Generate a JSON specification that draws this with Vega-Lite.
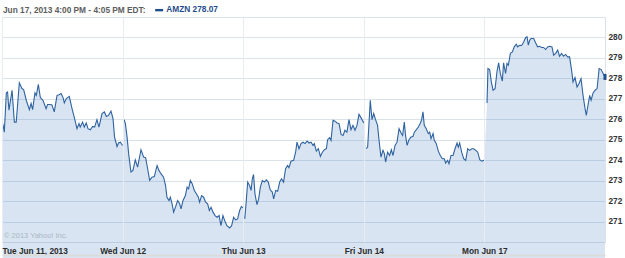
{
  "$schema": "https://vega.github.io/schema/vega-lite/v6.json",
  "width": 603,
  "height": 225,
  "autosize": {"type": "none"},
  "padding": {"left": 2, "top": 17, "right": 20, "bottom": 16},
  "background": "white",
  "title": {
    "text": "Jun 17, 2013 4:00 PM - 4:05 PM EDT:",
    "anchor": "start",
    "frame": "group",
    "font": "Liberation Sans",
    "fontSize": 8.3,
    "fontWeight": "bold",
    "color": "#5c5c5c",
    "offset": 4,
    "baseline": "alphabetic",
    "dx": 1,
    "dy": 19
  },
  "config": {
    "view": {"stroke": "#dbe2e9"},
    "legend": {
      "orient": "none",
      "legendX": 153,
      "legendY": -11,
      "padding": 0,
      "title": null,
      "symbolType": "M-1,-0.3H1V0.3H-1Z",
      "symbolSize": 64,
      "symbolStrokeWidth": 0,
      "labelOffset": 3,
      "labelFont": "Liberation Sans",
      "labelFontSize": 8.3,
      "labelFontWeight": "bold",
      "labelColor": "#1f4e8c"
    }
  },
  "data": {"values": [
    {"day":0,"t":0.5,"v":275.79},{"day":0,"t":1.5,"v":275.37},{"day":0,"t":2.8,"v":277.29},{"day":0,"t":3.6,"v":277.33},{"day":0,"t":4.5,"v":276.44},{"day":0,"t":6.5,"v":277.42},{"day":0,"t":8,"v":275.86},{"day":0,"t":9.2,"v":275.86},{"day":0,"t":11.2,"v":277.78},{"day":0,"t":12.9,"v":277.5},{"day":0,"t":14,"v":277.45},{"day":0,"t":15.7,"v":276.93},{"day":0,"t":17.7,"v":276.47},{"day":0,"t":18.8,"v":276.77},{"day":0,"t":19.8,"v":276.47},{"day":0,"t":21.3,"v":277.29},{"day":0,"t":22.2,"v":277.17},{"day":0,"t":23.5,"v":277.71},{"day":0,"t":24.8,"v":277.06},{"day":0,"t":26.5,"v":276.93},{"day":0,"t":28.5,"v":276.52},{"day":0,"t":29.5,"v":276.72},{"day":0,"t":31.2,"v":276.72},{"day":0,"t":32.3,"v":276.7},{"day":0,"t":33.8,"v":276.36},{"day":0,"t":35.6,"v":277.17},{"day":0,"t":36.9,"v":277.2},{"day":0,"t":38.2,"v":277.26},{"day":0,"t":39.5,"v":277.06},{"day":0,"t":40.3,"v":276.8},{"day":0,"t":41.6,"v":277.01},{"day":0,"t":43.5,"v":277.12},{"day":0,"t":45.3,"v":276.52},{"day":0,"t":46.8,"v":276.08},{"day":0,"t":48.5,"v":275.54},{"day":0,"t":49.8,"v":275.79},{"day":0,"t":50.6,"v":275.62},{"day":0,"t":52.1,"v":275.86},{"day":0,"t":53.2,"v":275.62},{"day":0,"t":54.5,"v":275.82},{"day":0,"t":55.6,"v":275.54},{"day":0,"t":57.1,"v":275.49},{"day":0,"t":58.6,"v":275.65},{"day":0,"t":59.9,"v":275.62},{"day":0,"t":61.4,"v":275.98},{"day":0,"t":62.7,"v":275.62},{"day":0,"t":64.7,"v":276.28},{"day":0,"t":66.2,"v":276.36},{"day":0,"t":67.5,"v":276.14},{"day":0,"t":68.9,"v":276.19},{"day":0,"t":70.5,"v":276.4},{"day":0,"t":71.8,"v":276.03},{"day":0,"t":72.8,"v":275.13},{"day":0,"t":74.4,"v":274.67},{"day":0,"t":75.4,"v":274.84},{"day":0,"t":76.5,"v":274.88},{"day":0,"t":78,"v":274.72},
    {"day":1,"t":79,"v":275.98},{"day":1,"t":79.8,"v":275.79},{"day":1,"t":80.9,"v":275.13},{"day":1,"t":81.9,"v":274.32},{"day":1,"t":83.4,"v":273.42},{"day":1,"t":84.7,"v":273.5},{"day":1,"t":86.2,"v":274.02},{"day":1,"t":87.7,"v":273.66},{"day":1,"t":89.9,"v":274.51},{"day":1,"t":91.6,"v":274.15},{"day":1,"t":92.9,"v":274.12},{"day":1,"t":94.2,"v":273.58},{"day":1,"t":95.5,"v":273.01},{"day":1,"t":97,"v":273.17},{"day":1,"t":98.5,"v":273.2},{"day":1,"t":100.3,"v":273.74},{"day":1,"t":101.5,"v":273.5},{"day":1,"t":102.8,"v":273.34},{"day":1,"t":104.5,"v":273.17},{"day":1,"t":105.8,"v":272.76},{"day":1,"t":106.7,"v":272.19},{"day":1,"t":108,"v":272.03},{"day":1,"t":108.9,"v":272.19},{"day":1,"t":110,"v":271.87},{"day":1,"t":111,"v":271.46},{"day":1,"t":112.3,"v":271.73},{"day":1,"t":113.6,"v":272.03},{"day":1,"t":114.9,"v":271.87},{"day":1,"t":115.8,"v":271.62},{"day":1,"t":117.1,"v":272.03},{"day":1,"t":118.6,"v":272.27},{"day":1,"t":119.7,"v":272.68},{"day":1,"t":120.7,"v":272.6},{"day":1,"t":121.8,"v":273.01},{"day":1,"t":123,"v":272.85},{"day":1,"t":124.4,"v":272.52},{"day":1,"t":125.7,"v":272.36},{"day":1,"t":127,"v":272.19},{"day":1,"t":127.8,"v":271.95},{"day":1,"t":129.1,"v":272.27},{"day":1,"t":130.4,"v":272.19},{"day":1,"t":131.7,"v":271.95},{"day":1,"t":133,"v":271.87},{"day":1,"t":134.1,"v":271.54},{"day":1,"t":135.2,"v":271.7},{"day":1,"t":136.5,"v":271.46},{"day":1,"t":137.8,"v":271.29},{"day":1,"t":139.1,"v":271.21},{"day":1,"t":140.4,"v":271.29},{"day":1,"t":141.6,"v":270.8},{"day":1,"t":142.9,"v":271.29},{"day":1,"t":144.2,"v":271.01},{"day":1,"t":145.5,"v":270.8},{"day":1,"t":147.2,"v":270.69},{"day":1,"t":148.5,"v":270.8},{"day":1,"t":149.8,"v":271.21},{"day":1,"t":151.1,"v":271.08},{"day":1,"t":152.4,"v":271.13},{"day":1,"t":153.7,"v":271.54},{"day":1,"t":154.8,"v":271.73},{"day":1,"t":156,"v":271.67},
    {"day":2,"t":157,"v":271.13},{"day":2,"t":158,"v":272.03},{"day":2,"t":158.9,"v":272.93},{"day":2,"t":160.1,"v":272.76},{"day":2,"t":161.1,"v":272.52},{"day":2,"t":161.9,"v":273.09},{"day":2,"t":162.7,"v":273.3},{"day":2,"t":163.6,"v":272.36},{"day":2,"t":164.9,"v":271.83},{"day":2,"t":166,"v":272.11},{"day":2,"t":167.1,"v":272.68},{"day":2,"t":168.4,"v":273.01},{"day":2,"t":169.7,"v":272.93},{"day":2,"t":171,"v":273.04},{"day":2,"t":172.2,"v":272.93},{"day":2,"t":173.5,"v":272.55},{"day":2,"t":174.8,"v":272.44},{"day":2,"t":175.7,"v":272.11},{"day":2,"t":177,"v":272.52},{"day":2,"t":178.3,"v":272.48},{"day":2,"t":179.6,"v":272.93},{"day":2,"t":180.8,"v":273.09},{"day":2,"t":182.1,"v":272.93},{"day":2,"t":183.4,"v":273.58},{"day":2,"t":184.7,"v":273.74},{"day":2,"t":185.6,"v":273.63},{"day":2,"t":186.9,"v":273.95},{"day":2,"t":188.6,"v":273.99},{"day":2,"t":189.9,"v":274.39},{"day":2,"t":190.8,"v":274.88},{"day":2,"t":192.1,"v":274.56},{"day":2,"t":193.4,"v":274.81},{"day":2,"t":194.7,"v":274.88},{"day":2,"t":196,"v":274.81},{"day":2,"t":197.3,"v":274.93},{"day":2,"t":198.6,"v":274.84},{"day":2,"t":199.9,"v":274.88},{"day":2,"t":201.2,"v":274.72},{"day":2,"t":202,"v":274.81},{"day":2,"t":203.3,"v":274.44},{"day":2,"t":204.6,"v":274.56},{"day":2,"t":205.9,"v":274.18},{"day":2,"t":207.2,"v":274.39},{"day":2,"t":208.5,"v":274.51},{"day":2,"t":209.8,"v":274.56},{"day":2,"t":210.6,"v":275.0},{"day":2,"t":211.9,"v":275.1},{"day":2,"t":212.8,"v":274.97},{"day":2,"t":214.1,"v":275.95},{"day":2,"t":215.4,"v":275.91},{"day":2,"t":216.7,"v":275.82},{"day":2,"t":218,"v":275.79},{"day":2,"t":219.3,"v":275.26},{"day":2,"t":220.6,"v":275.21},{"day":2,"t":221.8,"v":275.46},{"day":2,"t":223.1,"v":275.37},{"day":2,"t":224.4,"v":275.98},{"day":2,"t":225.7,"v":275.49},{"day":2,"t":227,"v":275.7},{"day":2,"t":228.3,"v":275.46},{"day":2,"t":229.6,"v":275.7},{"day":2,"t":230.9,"v":276.24},{"day":2,"t":232.2,"v":276.08},{"day":2,"t":234,"v":275.82},
    {"day":3,"t":235.6,"v":274.56},{"day":3,"t":236.5,"v":274.64},{"day":3,"t":238.2,"v":276.93},{"day":3,"t":239.3,"v":275.98},{"day":3,"t":240.4,"v":276.28},{"day":3,"t":241.6,"v":275.98},{"day":3,"t":242.9,"v":275.7},{"day":3,"t":244,"v":274.88},{"day":3,"t":245.1,"v":274.15},{"day":3,"t":246.4,"v":274.48},{"day":3,"t":247.3,"v":274.32},{"day":3,"t":248.1,"v":273.91},{"day":3,"t":249.4,"v":274.39},{"day":3,"t":250.7,"v":274.23},{"day":3,"t":251.8,"v":274.51},{"day":3,"t":252.9,"v":274.23},{"day":3,"t":254.2,"v":274.72},{"day":3,"t":255.5,"v":274.88},{"day":3,"t":256.8,"v":275.54},{"day":3,"t":258.1,"v":275.33},{"day":3,"t":259.1,"v":275.21},{"day":3,"t":260.2,"v":275.86},{"day":3,"t":261,"v":275.21},{"day":3,"t":262,"v":274.72},{"day":3,"t":263.2,"v":275.0},{"day":3,"t":264.5,"v":275.13},{"day":3,"t":265.8,"v":275.16},{"day":3,"t":266.7,"v":275.37},{"day":3,"t":268,"v":275.49},{"day":3,"t":269.3,"v":275.62},{"day":3,"t":270.6,"v":275.82},{"day":3,"t":271.4,"v":275.98},{"day":3,"t":272.3,"v":276.36},{"day":3,"t":273.1,"v":275.7},{"day":3,"t":274.4,"v":275.54},{"day":3,"t":275.7,"v":275.3},{"day":3,"t":276.6,"v":275.37},{"day":3,"t":277.5,"v":275.05},{"day":3,"t":278.8,"v":275.3},{"day":3,"t":279.6,"v":274.97},{"day":3,"t":280.9,"v":274.81},{"day":3,"t":282.2,"v":274.44},{"day":3,"t":283.5,"v":274.23},{"day":3,"t":284.8,"v":274.07},{"day":3,"t":286.1,"v":274.07},{"day":3,"t":286.9,"v":273.86},{"day":3,"t":288.2,"v":273.99},{"day":3,"t":289.1,"v":273.83},{"day":3,"t":290.4,"v":274.23},{"day":3,"t":291.7,"v":274.23},{"day":3,"t":293,"v":274.56},{"day":3,"t":294.3,"v":274.84},{"day":3,"t":295.1,"v":274.64},{"day":3,"t":296,"v":274.84},{"day":3,"t":297.3,"v":274.39},{"day":3,"t":298.6,"v":274.07},{"day":3,"t":299.9,"v":273.99},{"day":3,"t":301.2,"v":274.56},{"day":3,"t":302.5,"v":274.48},{"day":3,"t":303.8,"v":274.56},{"day":3,"t":305.1,"v":274.56},{"day":3,"t":306.4,"v":274.48},{"day":3,"t":307.7,"v":274.39},{"day":3,"t":309,"v":274.02},{"day":3,"t":310.3,"v":273.95},{"day":3,"t":311.5,"v":273.99},{"day":3,"t":312,"v":273.99},
    {"day":4,"t":313.7,"v":276.8},{"day":4,"t":314.3,"v":278.48},{"day":4,"t":315.4,"v":278.43},{"day":4,"t":316.5,"v":277.82},{"day":4,"t":317.6,"v":277.42},{"day":4,"t":318.9,"v":277.5},{"day":4,"t":320.2,"v":278.36},{"day":4,"t":321.2,"v":278.76},{"day":4,"t":322.3,"v":278.24},{"day":4,"t":323.6,"v":277.87},{"day":4,"t":324.4,"v":278.76},{"day":4,"t":325.7,"v":278.24},{"day":4,"t":326.6,"v":278.73},{"day":4,"t":327.5,"v":278.64},{"day":4,"t":328.8,"v":279.22},{"day":4,"t":330.1,"v":279.29},{"day":4,"t":331.3,"v":279.54},{"day":4,"t":332.6,"v":279.67},{"day":4,"t":333.5,"v":279.54},{"day":4,"t":334.8,"v":279.62},{"day":4,"t":336.1,"v":279.61},{"day":4,"t":337.4,"v":279.78},{"day":4,"t":338.7,"v":280.0},{"day":4,"t":339.6,"v":280.03},{"day":4,"t":340.4,"v":279.62},{"day":4,"t":341.3,"v":279.87},{"day":4,"t":342.2,"v":279.95},{"day":4,"t":343.9,"v":279.95},{"day":4,"t":345.1,"v":279.74},{"day":4,"t":346.4,"v":279.54},{"day":4,"t":347.7,"v":279.57},{"day":4,"t":349,"v":279.51},{"day":4,"t":350.3,"v":279.51},{"day":4,"t":351.6,"v":279.41},{"day":4,"t":352.9,"v":279.54},{"day":4,"t":354.2,"v":279.57},{"day":4,"t":355.7,"v":279.54},{"day":4,"t":356.8,"v":279.13},{"day":4,"t":358.1,"v":279.22},{"day":4,"t":359.4,"v":279.38},{"day":4,"t":360.6,"v":279.08},{"day":4,"t":361.9,"v":279.22},{"day":4,"t":363.2,"v":279.08},{"day":4,"t":364.5,"v":279.17},{"day":4,"t":365.8,"v":279.05},{"day":4,"t":367.1,"v":279.05},{"day":4,"t":368.4,"v":278.4},{"day":4,"t":369.3,"v":277.82},{"day":4,"t":370.6,"v":278.04},{"day":4,"t":371.9,"v":277.58},{"day":4,"t":373.2,"v":277.75},{"day":4,"t":374.5,"v":277.99},{"day":4,"t":375.8,"v":277.17},{"day":4,"t":377.1,"v":276.52},{"day":4,"t":377.9,"v":276.19},{"day":4,"t":378.8,"v":276.6},{"day":4,"t":380.1,"v":277.17},{"day":4,"t":381,"v":276.93},{"day":4,"t":382.3,"v":277.29},{"day":4,"t":383.6,"v":277.42},{"day":4,"t":384.9,"v":277.5},{"day":4,"t":386.2,"v":278.48},{"day":4,"t":387.5,"v":278.43},{"day":4,"t":388.8,"v":278.24},{"day":4,"t":390,"v":278.07}
  ]},
  "encoding": {
    "x": {
      "field": "t",
      "type": "quantitative",
      "scale": {"domain": [0, 390], "nice": false, "zero": false},
      "axis": {
        "title": null,
        "values": [0, 78, 156, 234, 312],
        "labelExpr": "datum.value == 0 ? 'Tue Jun 11, 2013' : datum.value == 78 ? 'Wed Jun 12' : datum.value == 156 ? 'Thu Jun 13' : datum.value == 234 ? 'Fri Jun 14' : 'Mon Jun 17'",
        "grid": true,
        "gridColor": "#e6ecf1",
        "gridWidth": 1,
        "zindex": 1,
        "domain": true,
        "domainColor": "#dcdcdc",
        "domainWidth": 2,
        "offset": 13,
        "ticks": false,
        "tickSize": 0,
        "labelPadding": -2,
        "labelBaseline": "alphabetic",
        "labelFlush": true,
        "labelOverlap": false,
        "labelFont": "Liberation Sans",
        "labelFontSize": 8.3,
        "labelFontWeight": "bold",
        "labelColor": "#2b2b2b"
      }
    },
    "y": {
      "field": "v",
      "type": "quantitative",
      "scale": {"domain": [270, 281], "nice": false, "zero": false},
      "axis": {
        "title": null,
        "orient": "right",
        "values": [271, 272, 273, 274, 275, 276, 277, 278, 279, 280],
        "grid": true,
        "gridColor": "#dbe3ea",
        "domain": false,
        "ticks": false,
        "labelPadding": 3,
        "labelFont": "Liberation Sans",
        "labelFontSize": 8.3,
        "labelFontWeight": "bold",
        "labelColor": "#333333"
      }
    }
  },
  "layer": [
    {
      "mark": {"type": "area", "color": "#3a7ab8", "opacity": 0.2},
      "encoding": {"detail": {"field": "day"}}
    },
    {
      "mark": {"type": "line", "color": "#2f63a0", "strokeWidth": 1.1},
      "encoding": {"detail": {"field": "day"}}
    },
    {
      "transform": [{"filter": "datum.t == 390"}],
      "mark": {"type": "point", "filled": true, "opacity": 1, "shape": "M-0.5,-1H0.5V1H-0.5Z", "size": 36},
      "encoding": {
        "color": {"datum": "AMZN 278.07", "scale": {"domain": ["AMZN 278.07"], "range": ["#1f4f8a"]}}
      }
    },
    {
      "data": {"values": [{"t": 0, "v": 270.2, "label": "© 2013 Yahoo! Inc."}]},
      "mark": {"type": "text", "align": "left", "baseline": "alphabetic", "dx": 2, "font": "Liberation Sans", "fontSize": 7.5, "color": "#a9b7c3"},
      "encoding": {
        "text": {"field": "label", "type": "nominal"}
      }
    }
  ]
}
